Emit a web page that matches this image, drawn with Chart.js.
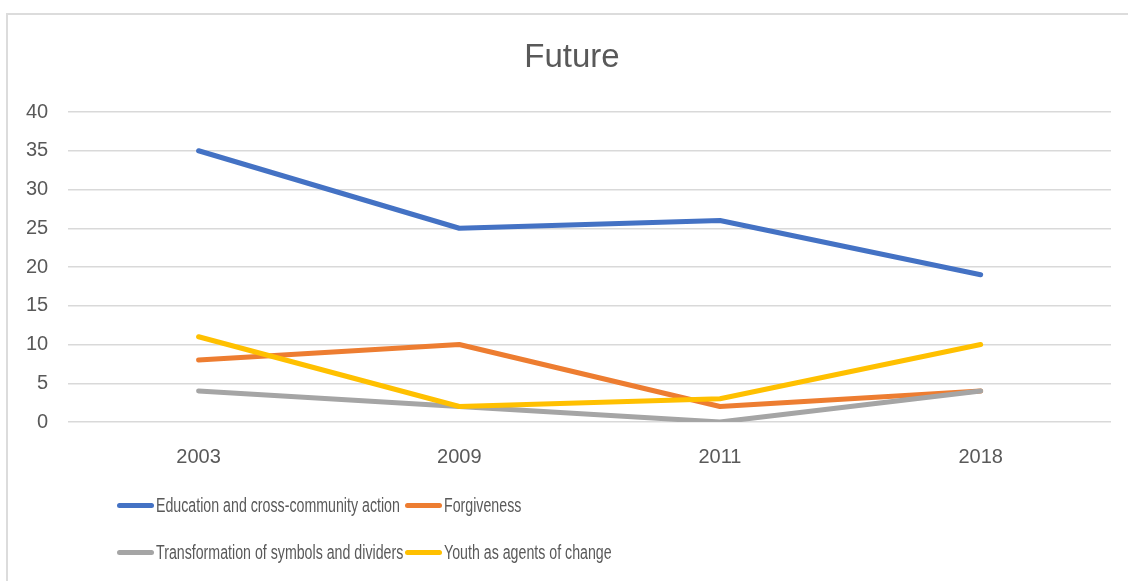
<!DOCTYPE html>
<html>
<head>
<meta charset="utf-8">
<script src="https://cdn.jsdelivr.net/npm/chart.js@4/dist/chart.umd.min.js"></script>
<style>
    html, body { margin: 0; padding: 0; background: #fff; }
    body { width: 1128px; height: 581px; position: relative; overflow: hidden; }
    #marco { position: absolute; left: 6px; top: 13px; width: 1300px; height: 700px; border: 2px solid #dcdcdc; }
    #lienzo { position: absolute; left: 0; top: 0; }
    #titulo { position: absolute; left: 472px; width: 200px; top: 39px; text-align: center; font-family: 'Liberation Sans', Arial, sans-serif; font-size: 33px; line-height: 1; color: #595959; }
    #leyenda { position: absolute; left: 117px; top: 0; font-family: 'Liberation Sans', Arial, sans-serif; font-size: 20px; color: #595959; }
    .item { position: absolute; white-space: nowrap; display: flex; align-items: center; }
    .item .linea { display: inline-block; width: 37px; height: 5px; border-radius: 3px; margin-right: 2px; }
    .item .texto { display: inline-block; transform: scaleX(0.71); transform-origin: left center; }
</style>
</head>
<body>
<div id="marco"></div>
<canvas id="lienzo" width="1128" height="581"></canvas>
<div id="titulo">Future</div>
<div id="leyenda"></div>
<script>
const años = ['2003', '2009', '2011', '2018'];
const educacion = [35, 25, 26, 19];
const perdon = [8, 10, 2, 4];
const transformacion = [4, 2, 0, 4];
const juventud = [11, 2, 3, 10];
const nombresSeries = [
    'Education and cross-community action',
    'Forgiveness',
    'Transformation of symbols and dividers',
    'Youth as agents of change'
];
const colores = ['#4472C4', '#ED7D31', '#A5A5A5', '#FFC000'];

const gris = '#595959';
const fuente = "'Liberation Sans', Arial, sans-serif";

function serie(i, datos) {
    return {
        label: nombresSeries[i],
        data: datos,
        borderColor: colores[i],
        backgroundColor: colores[i],
        borderWidth: 5,
        borderCapStyle: 'round',
        borderJoinStyle: 'round',
        pointRadius: 0,
        tension: 0,
        order: 4 - i
    };
}

new Chart(document.getElementById('lienzo').getContext('2d'), {
    type: 'line',
    data: {
        labels: años,
        datasets: [
            serie(0, educacion),
            serie(1, perdon),
            serie(2, transformacion),
            serie(3, juventud)
        ]
    },
    options: {
        responsive: false,
        animation: false,
        layout: { padding: { left: 6, right: 17, top: 112, bottom: 97 } },
        plugins: {
            legend: { display: false },
            tooltip: { enabled: false },
            title: { display: false }
        },
        scales: {
            x: {
                offset: true,
                grid: { display: false },
                border: { display: false },
                ticks: { color: gris, font: { family: fuente, size: 20 }, padding: 15 }
            },
            y: {
                min: 0,
                max: 40,
                grid: { color: '#d9d9d9', lineWidth: 1.5, drawTicks: false },
                border: { display: false },
                ticks: { stepSize: 5, color: gris, font: { family: fuente, size: 20 }, padding: 20 }
            }
        }
    }
});

// leyenda en dos filas y dos columnas, como en el original
const leyenda = document.getElementById('leyenda');
const posiciones = [[0, 506], [288, 506], [0, 553], [288, 553]];
nombresSeries.forEach((nombre, i) => {
    const div = document.createElement('div');
    div.className = 'item';
    div.style.left = posiciones[i][0] + 'px';
    div.style.top = (posiciones[i][1] - 12) + 'px';
    div.innerHTML = `<span class="linea" style="background:${colores[i]}"></span><span class="texto">${nombre}</span>`;
    leyenda.appendChild(div);
});
</script>
</body>
</html>
